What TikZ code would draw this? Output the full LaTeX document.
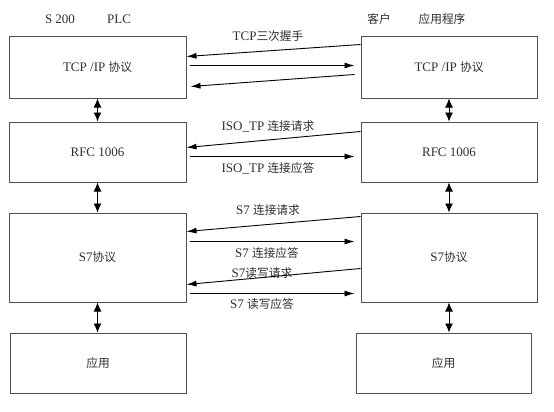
\documentclass[tikz,border=0pt]{standalone}
\usepackage{fontspec}
\setmainfont{Liberation Serif}
\newfontfamily\cjk[Scale=0.9]{Noto Sans CJK SC}
\usepackage{tikz}
\usetikzlibrary{arrows.meta}
\definecolor{boxline}{HTML}{505050}
\definecolor{txt}{HTML}{2E2E2E}
\tikzstyle{layer} = [rectangle, minimum width=177pt, minimum height=60pt, text centered, draw=boxline, line width=1pt, font=\fontsize{13}{15}\selectfont, text=txt]
\tikzstyle{msg} = [font=\fontsize{13}{15}\selectfont, text=txt, inner sep=0pt]
\tikzstyle{arrow} = [line width=0.9pt,->,>={Latex[length=10pt,width=6pt]}]
\tikzstyle{link} = [line width=0.9pt,<->,>={Latex[length=9pt,width=8pt]}]

\begin{document}
\begin{tikzpicture}[x=1pt,y=-1pt]
\useasboundingbox (0,0) rectangle (554,412);

% titles
\node (plcA) [msg] at (60,19) {S 200};
\node (plcB) [msg] at (119,19) {PLC};
\node (cliA) [msg] at (379,19) {\cjk 客户};
\node (cliB) [msg] at (442,19) {\cjk 应用程序};

% S7-200 side
\node (tcpL) [layer, minimum height=61pt] at (97.5,67.5) {TCP /IP {\cjk 协议}};
\node (rfcL) [layer] at (97.5,152) {RFC 1006};
\node (s7L) [layer, minimum height=89pt] at (97.5,257.5) {S7{\cjk 协议}};
\node (appL) [layer, minimum width=176pt] at (98,363) {\cjk 应用};

% client side
\node (tcpR) [layer, minimum width=176pt, minimum height=61pt] at (449,67.5) {TCP /IP {\cjk 协议}};
\node (rfcR) [layer, minimum width=176pt] at (449,152) {RFC 1006};
\node (s7R) [layer, minimum width=176pt, minimum height=89pt] at (449,257.5) {S7{\cjk 协议}};
\node (appR) [layer, minimum width=175pt] at (443.5,363) {\cjk 应用};

% messages
\node (tcpMsg) [msg] at (268,36) {TCP{\cjk 三次握手}};
\node (isoReq) [msg] at (268,126) {ISO\_TP {\cjk 连接请求}};
\node (isoAck) [msg] at (268,168) {ISO\_TP {\cjk 连接应答}};
\node (s7Req) [msg] at (268,210) {S7 {\cjk 连接请求}};
\node (s7Ack) [msg] at (267,253) {S7 {\cjk 连接应答}};
\node (rwReq) [msg] at (262,273) {S7{\cjk 读写请求}};
\node (rwAck) [msg] at (262,304) {S7 {\cjk 读写应答}};

\draw [link] (tcpL) -- (rfcL);
\draw [link] (rfcL) -- (s7L);
\draw [link] (s7L.south) -- (s7L.south |- appL.north);
\draw [link] (tcpR) -- (rfcR);
\draw [link] (rfcR) -- (s7R);
\draw [link] (s7R.south) -- (s7R.south |- appR.north);

\draw [arrow] ([yshift=-8pt]tcpR.north west) -- ([yshift=-20pt]tcpL.north east);
\draw [arrow] ([xshift=3pt,yshift=-29pt]tcpL.north east) -- ([xshift=-6pt,yshift=-29pt]tcpR.north west);
\draw [arrow] ([xshift=-6pt,yshift=-38pt]tcpR.north west) -- ([xshift=4pt,yshift=-50pt]tcpL.north east);

\draw [arrow] ([yshift=-10pt]rfcR.north west) -- ([yshift=-26pt]rfcL.north east);
\draw [arrow] ([xshift=3pt,yshift=-35pt]rfcL.north east) -- ([xshift=-6pt,yshift=-35pt]rfcR.north west);

\draw [arrow] ([yshift=-4pt]s7R.north west) -- ([yshift=-19pt]s7L.north east);
\draw [arrow] ([xshift=3pt,yshift=-29pt]s7L.north east) -- ([xshift=-6pt,yshift=-29pt]s7R.north west);
\draw [arrow] ([yshift=-56pt]s7R.north west) -- ([yshift=-72pt]s7L.north east);
\draw [arrow] ([xshift=3pt,yshift=-81pt]s7L.north east) -- ([xshift=-6pt,yshift=-81pt]s7R.north west);

\end{tikzpicture}
\end{document}
